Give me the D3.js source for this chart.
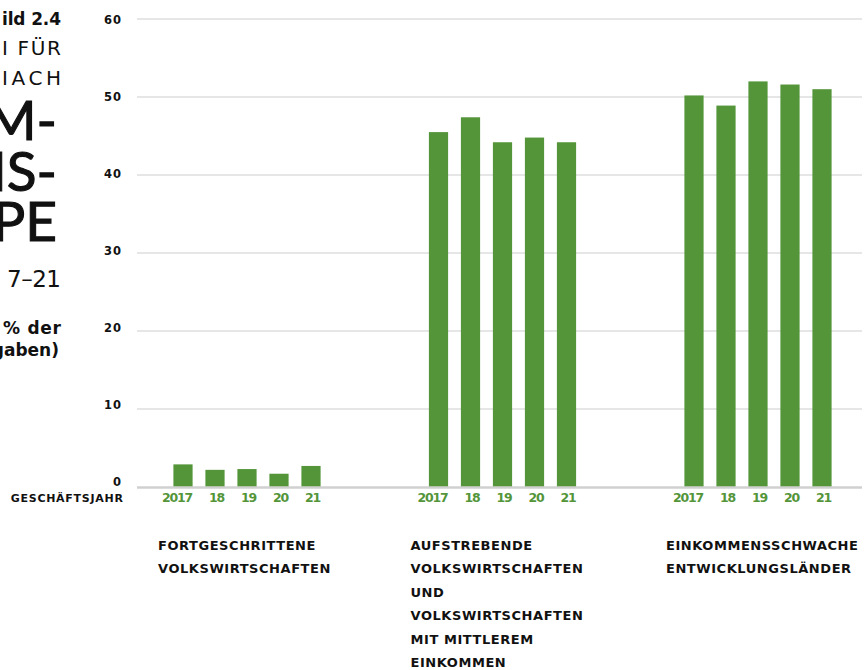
<!DOCTYPE html>
<html>
<head>
<meta charset="utf-8">
<script src="https://cdn.jsdelivr.net/npm/d3@7"></script>
<style>
  html, body { margin: 0; padding: 0; background: #fff; }
  svg { display: block; font-family: "DejaVu Sans", "Open Sans", sans-serif; }
  .big { font-family: Lato, "Open Sans", sans-serif; }
</style>
</head>
<body>
<svg id="chart" width="868" height="670"></svg>
<script>
// ---- data ----
const groups = ["adv", "emg", "low"];
const groupLabels = [
  ["FORTGESCHRITTENE", "VOLKSWIRTSCHAFTEN"],
  ["AUFSTREBENDE", "VOLKSWIRTSCHAFTEN", "UND", "VOLKSWIRTSCHAFTEN", "MIT MITTLEREM", "EINKOMMEN"],
  ["EINKOMMENSSCHWACHE", "ENTWICKLUNGSLÄNDER"]
];
const years = ["2017", "18", "19", "20", "21"];
const advValues = [2.9, 2.2, 2.3, 1.7, 2.7];
const emgValues = [45.5, 47.4, 44.2, 44.8, 44.2];
const lowValues = [50.2, 48.9, 52.0, 51.6, 51.0];
const yTicks = [0, 10, 20, 30, 40, 50, 60];
const axisTitle = "GESCHÄFTSJAHR";
const sideTitle = [
  { t: "ild 2.4", cls: "s1" },
  { t: "I FÜR", cls: "s2" },
  { t: "IACH", cls: "s2" },
  { t: "M-", cls: "s3" },
  { t: "NS-", cls: "s3" },
  { t: "PE", cls: "s3" },
  { t: "7–21", cls: "s4" },
  { t: "% der", cls: "s5" },
  { t: "gaben)", cls: "s5" }
];

const seriesByGroup = { adv: advValues, emg: emgValues, low: lowValues };
const GREEN = "#54953a";
const INK = "#111";

const svg = d3.select("#chart");

// measure helper -> letter-spacing needed to reach a target width
function spacingFor(str, size, weight, target, cls) {
  const t = svg.append("text").attr("class", cls || null)
    .attr("font-size", size).attr("font-weight", weight).text(str);
  const w = t.node().getComputedTextLength();
  t.remove();
  return (target - w) / str.length;
}

// ---- scales ----
const y = d3.scaleLinear().domain([0, 60]).range([487, 19]);
const yLab = d3.scaleLinear().domain([0, 60]).range([482, 20]);
const x0 = d3.scaleBand().domain(groups).range([167, 167 + 3 * 255.5]);
const x1 = d3.scaleBand().domain(years).range([0, 160]).paddingInner(0.4).paddingOuter(0.2);

// ---- gridlines ----
svg.append("g").selectAll("line")
  .data(yTicks.filter(d => d > 0))
  .join("line")
  .attr("x1", 137).attr("x2", 862)
  .attr("y1", d => y(d)).attr("y2", d => y(d))
  .attr("stroke", "#cdcdcd").attr("stroke-width", 1);

// ---- bars ----
const gGroups = svg.append("g").selectAll("g")
  .data(groups).join("g")
  .attr("transform", d => `translate(${x0(d)},0)`);

gGroups.selectAll("rect")
  .data(g => seriesByGroup[g].map((v, i) => ({ year: years[i], v })))
  .join("rect")
  .attr("x", d => x1(d.year))
  .attr("width", x1.bandwidth())
  .attr("y", d => y(d.v))
  .attr("height", d => y(0) - y(d.v))
  .attr("fill", GREEN);

// baseline
svg.append("line")
  .attr("x1", 137).attr("x2", 862)
  .attr("y1", y(0) + 0.5).attr("y2", y(0) + 0.5)
  .attr("stroke", "#d0d0d0").attr("stroke-width", 2.5);

// year labels
const yrLS = spacingFor("2017", 12.5, 700, 30);
gGroups.selectAll("text.yr")
  .data(years).join("text")
  .attr("class", "yr")
  .attr("x", d => x1(d) + x1.bandwidth() + 0.5 + yrLS)
  .attr("y", 502)
  .attr("text-anchor", "end")
  .attr("font-size", 12.5)
  .attr("font-weight", 700)
  .attr("letter-spacing", yrLS)
  .attr("fill", GREEN)
  .text(d => d);

// category labels
const catLS = spacingFor("FORTGESCHRITTENE", 13, 700, 158);
gGroups.each(function(g, gi) {
  const t = d3.select(this).append("text")
    .attr("font-size", 13)
    .attr("font-weight", 700)
    .attr("fill", INK)
    .attr("letter-spacing", catLS);
  t.selectAll("tspan")
    .data(groupLabels[gi]).join("tspan")
    .attr("x", gi === 0 ? -9 : -12)
    .attr("y", (d, i) => 550 + i * 23.4)
    .text(d => d);
});

// y tick labels
const tickLS = spacingFor("60", 11.5, 700, 18);
svg.append("g").selectAll("text")
  .data(yTicks).join("text")
  .attr("x", 121 + tickLS)
  .attr("y", d => yLab(d))
  .attr("dy", "0.35em")
  .attr("text-anchor", "end")
  .attr("font-size", 11.5)
  .attr("font-weight", 700)
  .attr("letter-spacing", tickLS)
  .attr("fill", INK)
  .text(d => d);

// axis title
const axLS = spacingFor(axisTitle, 11, 700, 113);
svg.append("text")
  .attr("x", 123 + axLS).attr("y", 502)
  .attr("text-anchor", "end")
  .attr("font-size", 11)
  .attr("font-weight", 700)
  .attr("letter-spacing", axLS)
  .attr("fill", INK)
  .text(axisTitle);

// side title (cut off at left edge)
const sideStyle = {
  s1: { size: 17, weight: 700, cls: null, stroke: 0 },
  s2: { size: 20, weight: 400, cls: null, stroke: 0 },
  s3: { size: 55, weight: 400, cls: "big", stroke: 1.1 },
  s4: { size: 23, weight: 400, cls: null, stroke: 0 },
  s5: { size: 17, weight: 700, cls: null, stroke: 0 }
};
const sideY = [25, 55, 85, 140, 191, 241, 287, 334, 356];
const sideRight = [61, 61, 61, 57, 57, 57, 61, 61, 59];
const sideWidth = [59, 59, 59, null, null, null, 54, 58, null];
svg.append("g").selectAll("text")
  .data(sideTitle).join("text")
  .attr("class", d => sideStyle[d.cls].cls)
  .attr("x", (d, i) => sideRight[i])
  .attr("y", (d, i) => sideY[i])
  .attr("text-anchor", "end")
  .attr("font-size", d => sideStyle[d.cls].size)
  .attr("font-weight", d => sideStyle[d.cls].weight)
  .attr("fill", INK)
  .attr("stroke", d => sideStyle[d.cls].stroke ? INK : null)
  .attr("stroke-width", d => sideStyle[d.cls].stroke || null)
  .each(function(d, i) {
    if (sideWidth[i]) {
      d3.select(this).attr("textLength", sideWidth[i]).attr("lengthAdjust", "spacing");
    }
  })
  .text(d => d.t);
</script>
</body>
</html>
